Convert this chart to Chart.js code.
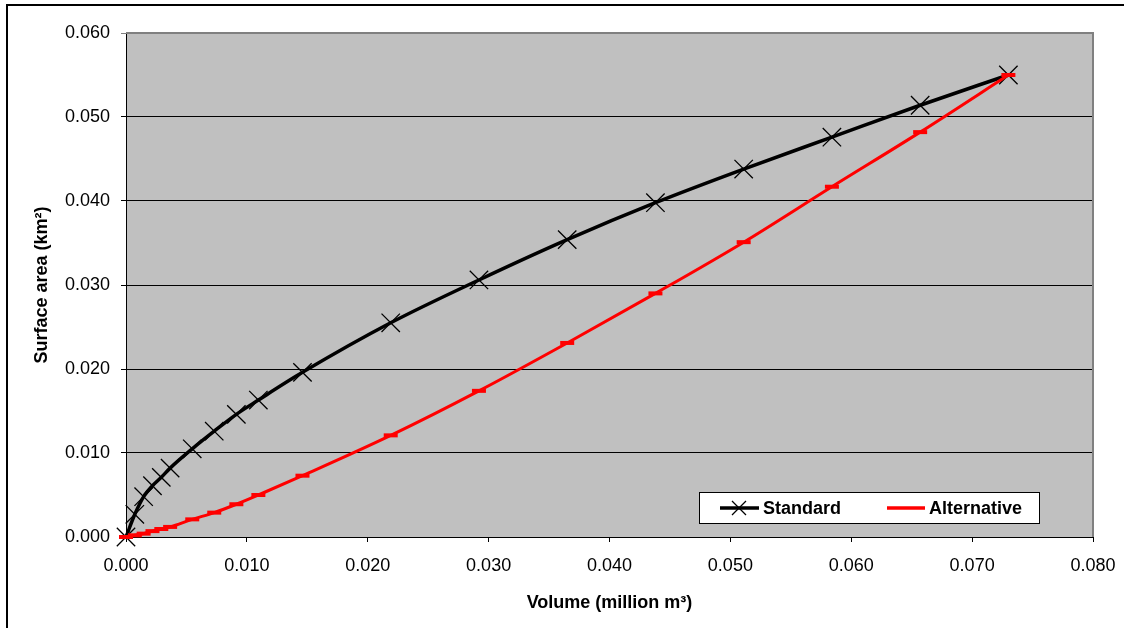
<!DOCTYPE html>
<html>
<head>
<meta charset="utf-8">
<script src="https://cdn.jsdelivr.net/npm/chart.js@4/dist/chart.umd.min.js"></script>
<style>
  html, body { margin: 0; padding: 0; background: #fff; overflow: hidden; }
  #wrap { position: relative; width: 1124px; height: 628px; }
  #frame { position: absolute; left: 6px; top: 4px; width: 1300px; height: 800px; border: 2px solid #000; }
  #myChart { position: absolute; left: 0; top: 0; }
</style>
</head>
<body>
<div id="wrap">
  <div id="frame"></div>
  <canvas id="myChart" width="1124" height="628"></canvas>
</div>
<script>
let volume = [0, 0.00073, 0.00146, 0.00219, 0.00292, 0.00365, 0.00548, 0.0073, 0.00913, 0.01095, 0.0146, 0.0219, 0.0292, 0.0365, 0.0438, 0.0511, 0.0584, 0.0657, 0.073];
let standardArea = [0, 0.0027, 0.0048, 0.0061, 0.0071, 0.0082, 0.0105, 0.0126, 0.0146, 0.0163, 0.0196, 0.0255, 0.0306, 0.0354, 0.0398, 0.0438, 0.0476, 0.0514, 0.055];
let alternativeArea = [0, 0.0002, 0.0004, 0.0007, 0.00095, 0.0012, 0.0021, 0.0029, 0.0039, 0.005, 0.0073, 0.0121, 0.0174, 0.0231, 0.029, 0.0351, 0.0417, 0.0482, 0.055];
let seriesNames = ["Standard", "Alternative"];
let xTitle = "Volume (million m\u00b3)";
let yTitle = "Surface area (km\u00b2)";

const fontFamily = "Arial, 'Liberation Sans', sans-serif";

function toPoints(xs, ys) {
    let pts = [];
    for (let i = 0; i < xs.length; i++) pts.push({x: xs[i], y: ys[i]});
    return pts;
}

// grey plot area + grey top/right border
const plotBackground = {
    id: 'plotBackground',
    beforeDraw(chart) {
        const {ctx, chartArea: a} = chart;
        ctx.save();
        ctx.fillStyle = '#c0c0c0';
        ctx.fillRect(a.left, a.top, a.right - a.left, a.bottom - a.top);
        ctx.restore();
    },
    beforeDatasetsDraw(chart) {
        const {ctx, chartArea: a} = chart;
        ctx.save();
        ctx.strokeStyle = '#808080';
        ctx.lineWidth = 2;
        ctx.beginPath();
        ctx.moveTo(a.left, a.top);
        ctx.lineTo(a.right, a.top);
        ctx.lineTo(a.right, a.bottom);
        ctx.stroke();
        ctx.restore();
    }
};

// legend box inside the plot, bottom right
const boxLegend = {
    id: 'boxLegend',
    afterDraw(chart) {
        const ctx = chart.ctx;
        const bx = 699, by = 492, bw = 340, bh = 31;
        ctx.save();
        ctx.fillStyle = '#fff';
        ctx.fillRect(bx, by, bw, bh);
        ctx.strokeStyle = '#000';
        ctx.lineWidth = 1;
        ctx.strokeRect(bx + 0.5, by + 0.5, bw, bh);
        const cy = by + 16;
        // standard sample
        ctx.lineWidth = 3.5;
        ctx.beginPath(); ctx.moveTo(720, cy); ctx.lineTo(759, cy); ctx.stroke();
        ctx.lineWidth = 1.3;
        ctx.beginPath();
        ctx.moveTo(732, cy - 7); ctx.lineTo(746, cy + 7);
        ctx.moveTo(746, cy - 7); ctx.lineTo(732, cy + 7);
        ctx.stroke();
        // alternative sample
        ctx.strokeStyle = '#ff0000';
        ctx.lineWidth = 3.5;
        ctx.beginPath(); ctx.moveTo(887, cy); ctx.lineTo(925, cy); ctx.stroke();
        ctx.fillStyle = '#000';
        ctx.font = "bold 18px " + fontFamily;
        ctx.textBaseline = 'middle';
        ctx.textAlign = 'left';
        ctx.fillText(seriesNames[0], 763, cy + 1);
        ctx.fillText(seriesNames[1], 929, cy + 1);
        ctx.restore();
    }
};

let chart = new Chart("myChart", {
    type: "line",
    data: {
        datasets: [{
            label: seriesNames[0],
            data: toPoints(volume, standardArea),
            borderColor: "#000",
            borderWidth: 3.5,
            pointStyle: 'crossRot',
            pointRadius: 13,
            pointBorderWidth: 1.3,
            pointBorderColor: '#000',
            cubicInterpolationMode: 'monotone',
            fill: false,
            clip: false,
            order: 2
        }, {
            label: seriesNames[1],
            data: toPoints(volume, alternativeArea),
            borderColor: "#ff0000",
            borderWidth: 3,
            pointStyle: 'line',
            pointRadius: 7,
            pointBorderWidth: 4,
            pointBorderColor: '#ff0000',
            cubicInterpolationMode: 'monotone',
            fill: false,
            clip: false,
            order: 1
        }]
    },
    plugins: [plotBackground, boxLegend],
    options: {
        responsive: false,
        animation: false,
        devicePixelRatio: 1,
        layout: { autoPadding: false, padding: { left: 0, top: 33, right: 31, bottom: 0 } },
        plugins: { legend: { display: false }, tooltip: { enabled: false } },
        scales: {
            x: {
                type: 'linear',
                min: 0, max: 0.08,
                afterFit(scale) {
                    scale.height = 91;
                    scale.paddingLeft = 0;
                    scale.paddingRight = 0;
                },
                border: { color: '#000', width: 1 },
                grid: { drawOnChartArea: false, color: '#000', tickLength: 5 },
                ticks: {
                    stepSize: 0.01, color: '#000', padding: 13,
                    font: { family: fontFamily, size: 18 },
                    callback: v => v.toFixed(3)
                },
                title: {
                    display: true, text: xTitle, color: '#000',
                    font: { family: fontFamily, size: 18, weight: 'bold' },
                    padding: { top: 0, bottom: 14 }
                }
            },
            y: {
                min: 0, max: 0.06,
                afterFit(scale) { scale.width = 126; },
                border: { color: '#000', width: 1 },
                grid: {
                    color: ctx => (ctx.tick && Math.abs(ctx.tick.value - 0.06) < 1e-9) ? '#808080' : '#000',
                    lineWidth: 1, tickLength: 5
                },
                ticks: {
                    stepSize: 0.01, color: '#000', padding: 11,
                    font: { family: fontFamily, size: 18 },
                    callback: v => v.toFixed(3)
                },
                title: {
                    display: true, text: yTitle, color: '#000',
                    font: { family: fontFamily, size: 18, weight: 'bold' },
                    padding: { top: 31, bottom: 0 }
                }
            }
        }
    }
});
</script>
</body>
</html>
